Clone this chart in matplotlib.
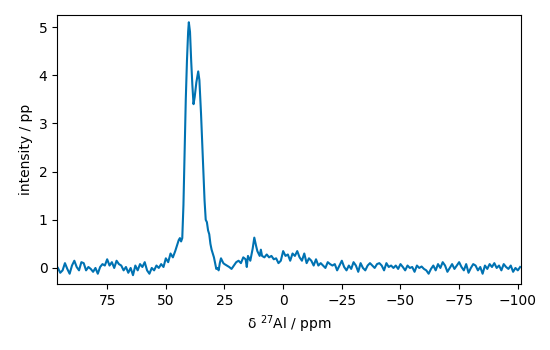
import numpy as np
import matplotlib
matplotlib.use("Agg")
import matplotlib.pyplot as plt

# chemical shift (ppm) and intensity
ppm = [96, 95, 94, 93, 92, 91, 90, 89, 88, 87, 86, 85, 84, 83, 82, 81, 80, 79, 78, 77,
       76, 75, 74, 73, 72, 71, 70, 69, 68, 67, 66, 65, 64, 63, 62, 61, 60, 59, 58, 57,
       56, 55, 54, 53, 52, 51, 50, 49, 48, 47, 46, 45, 44.5, 44, 43.5, 43, 42.5, 42,
       41.5, 41, 40.5, 40.2, 39.7, 39.2, 38.7, 38.2, 37.7, 37, 36.2, 35.7, 35, 34.5,
       34, 33.5, 33, 32.5, 32, 31.5, 31, 30.5, 30, 29.5, 29, 28.5, 28, 27.5, 27, 26.5,
       26, 25.5, 25, 24, 23, 22, 21, 20, 19, 18, 17, 16, 15.5, 15, 14, 13, 12.3, 11.5,
       11, 10, 9.5, 9, 8, 7, 6, 5, 4, 3, 2, 1, 0, -1, -2, -3, -4, -5, -6, -7, -8, -9,
       -10, -11, -12, -13, -14, -15, -16, -17, -18, -19, -20, -21, -22, -23, -24, -25,
       -26, -27, -28, -29, -30, -31, -32, -33, -34, -35, -36, -37, -38, -39, -40, -41,
       -42, -43, -44, -45, -46, -47, -48, -49, -50, -51, -52, -53, -54, -55, -56, -57,
       -58, -59, -60, -61, -62, -63, -64, -65, -66, -67, -68, -69, -70, -71, -72, -73,
       -74, -75, -76, -77, -78, -79, -80, -81, -82, -83, -84, -85, -86, -87, -88, -89,
       -90, -91, -92, -93, -94, -95, -96, -97, -98, -99, -100, -101]
intensity = [0.00, -0.10, -0.05, 0.10, -0.02, -0.12, 0.05, 0.15, 0.02, -0.05, 0.12, 0.10,
             -0.05, 0.02, -0.02, -0.08, 0.00, -0.12, 0.02, 0.08, 0.05, 0.18, 0.05, 0.12,
             0.00, 0.15, 0.08, 0.05, -0.05, 0.02, -0.10, 0.00, -0.15, 0.05, -0.05, 0.08,
             0.02, 0.12, -0.05, -0.12, 0.00, -0.05, 0.05, 0.00, 0.08, 0.02, 0.20, 0.12,
             0.30, 0.22, 0.35, 0.50, 0.58, 0.62, 0.55, 0.62, 1.30, 2.40, 3.50, 4.30, 4.90,
             5.10, 4.90, 4.30, 3.80, 3.40, 3.55, 3.85, 4.08, 3.90, 3.20, 2.60, 2.00, 1.40,
             1.00, 0.95, 0.78, 0.70, 0.50, 0.38, 0.30, 0.22, 0.10, -0.02, 0.00, -0.05,
             0.10, 0.20, 0.15, 0.10, 0.08, 0.05, 0.02, -0.02, 0.05, 0.12, 0.15, 0.10, 0.22,
             0.18, 0.02, 0.25, 0.15, 0.40, 0.63, 0.45, 0.35, 0.25, 0.38, 0.25, 0.22, 0.28,
             0.22, 0.25, 0.18, 0.20, 0.10, 0.15, 0.35, 0.25, 0.28, 0.15, 0.30, 0.25, 0.35,
             0.22, 0.15, 0.30, 0.10, 0.20, 0.15, 0.05, 0.18, 0.05, 0.10, 0.05, 0.00, 0.12,
             0.08, 0.05, 0.08, -0.05, 0.05, 0.15, 0.02, -0.05, 0.05, -0.02, 0.12, 0.05,
             -0.08, 0.10, 0.00, -0.05, 0.05, 0.10, 0.05, 0.00, 0.08, 0.10, 0.05, -0.05,
             0.10, 0.02, 0.05, 0.00, 0.05, -0.02, 0.08, 0.02, -0.05, 0.05, 0.00, 0.02,
             -0.08, 0.05, 0.00, 0.03, -0.02, -0.05, -0.12, -0.02, 0.05, -0.05, 0.08, 0.00,
             0.12, 0.05, -0.08, 0.00, 0.08, -0.02, 0.05, 0.12, 0.02, -0.05, 0.08, -0.10,
             0.00, 0.08, 0.05, -0.05, 0.02, -0.12, 0.05, -0.02, 0.08, 0.02, 0.10, 0.00,
             0.05, -0.05, 0.08, 0.02, -0.02, 0.05, -0.08, 0.00, -0.05, 0.02]

fig = plt.figure(figsize=(5.5, 3.5), dpi=100)
ax = fig.add_axes([0.104, 0.189, 0.843, 0.768])
ax.plot(ppm, intensity, color='#0072B2', lw=1.5)
ax.set_xlim(96.3, -101.3)  # shift axis runs high -> low
ax.set_ylim(-0.33, 5.25)
ax.set_xlabel("δ $^{27}$Al / ppm")
ax.set_ylabel("intensity / pp")
fig.savefig("out.png", dpi=100)
